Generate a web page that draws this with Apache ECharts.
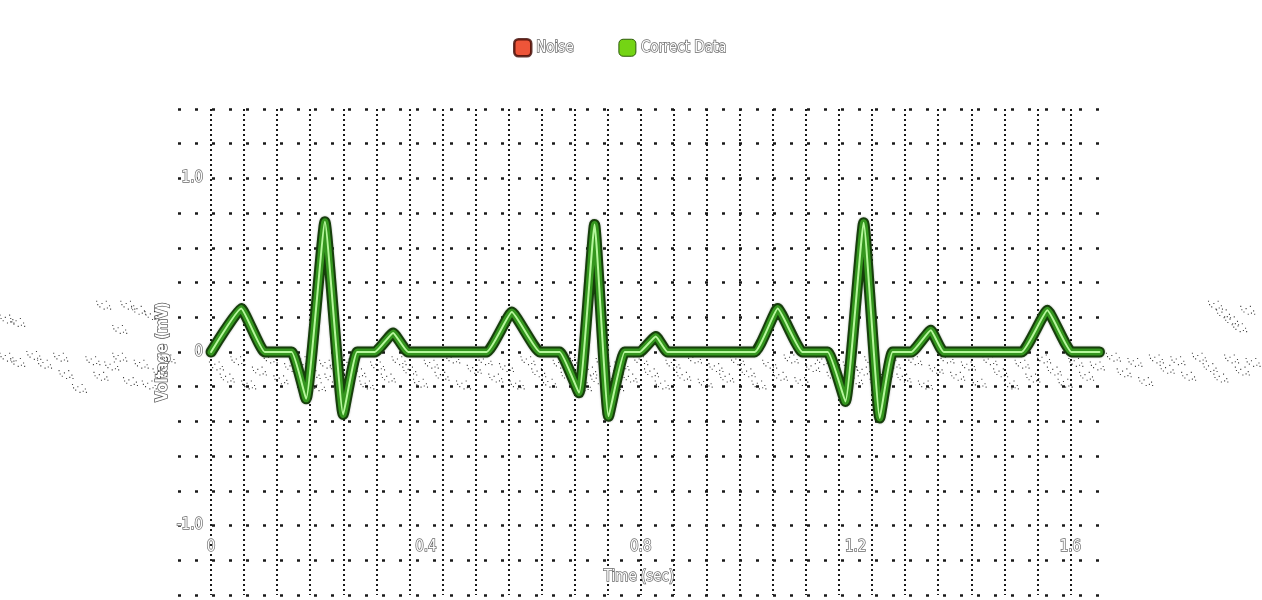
<!DOCTYPE html>
<html><head><meta charset="utf-8">
<script src="https://cdn.jsdelivr.net/npm/echarts@6/dist/echarts.min.js"></script>
<style>html,body{margin:0;padding:0;background:#fff}#c{width:1262px;height:600px}</style>
</head><body><div id="c"></div>
<script>
// ECG "Correct Data" (time in sec, voltage in mV)
const ecgTime = [0, 0.056, 0.10, 0.15, 0.177, 0.212, 0.246, 0.272, 0.305, 0.339, 0.367, 0.513, 0.56, 0.612, 0.649, 0.685, 0.714, 0.74, 0.77, 0.798, 0.828, 0.85, 1.012, 1.055, 1.101, 1.148, 1.181, 1.215, 1.245, 1.269, 1.304, 1.34, 1.364, 1.509, 1.557, 1.602, 1.654];
const ecgVoltage = [0, 0.25, 0, 0, -0.27, 0.75, -0.36, 0, 0, 0.11, 0, 0, 0.23, 0, 0, -0.235, 0.735, -0.37, 0, 0, 0.09, 0, 0, 0.25, 0, 0, -0.285, 0.745, -0.38, 0, 0, 0.125, 0, 0, 0.24, 0, 0];
// Noise samples [time, voltage]
const noisePoints = [
  [-0.38,-0.03],[-0.36,-0.06],[-0.33,-0.02],[-0.31,-0.07],[-0.28,-0.03],[-0.27,-0.13],[-0.245,-0.21],[-0.22,-0.05],
  [-0.205,-0.14],[-0.185,-0.08],[-0.17,-0.03],[-0.15,-0.17],[-0.13,-0.07],[-0.115,-0.19],[-0.095,-0.12],[-0.08,-0.04],
  [-0.38,0.19],[-0.36,0.17],[-0.2,0.27],[-0.155,0.27],[-0.135,0.24],[-0.11,0.21],[-0.17,0.13],
  [0.01,-0.08],[0.03,-0.15],[0.05,-0.05],[0.07,-0.19],[0.09,-0.11],[0.11,-0.04],[0.13,-0.16],[0.15,-0.09],
  [0.17,-0.05],[0.19,-0.13],[0.2,-0.2],[0.215,-0.07],[0.225,-0.15],[0.235,-0.1],[0.25,-0.18],[0.26,-0.05],
  [0.275,-0.12],[0.29,-0.19],[0.31,-0.08],[0.33,-0.15],[0.35,-0.05],[0.37,-0.11],[0.39,-0.18],[0.41,-0.07],
  [0.43,-0.14],[0.45,-0.04],[0.47,-0.19],[0.49,-0.1],[0.51,-0.05],[0.53,-0.15],[0.55,-0.09],[0.57,-0.19],
  [0.59,-0.05],[0.61,-0.12],[0.63,-0.18],[0.65,-0.07],[0.665,-0.14],[0.68,-0.04],[0.695,-0.2],[0.705,-0.11],
  [0.72,-0.16],[0.73,-0.06],[0.745,-0.13],[0.755,-0.2],[0.765,-0.08],[0.78,-0.15],[0.8,-0.05],[0.82,-0.12],
  [0.84,-0.19],[0.86,-0.07],[0.88,-0.14],[0.9,-0.04],[0.92,-0.18],[0.94,-0.09],[0.96,-0.15],[0.98,-0.05],
  [1.0,-0.12],[1.02,-0.19],[1.04,-0.07],[1.06,-0.14],[1.08,-0.04],[1.1,-0.17],[1.12,-0.09],[1.14,-0.05],
  [1.16,-0.14],[1.175,-0.2],[1.19,-0.08],[1.2,-0.16],[1.215,-0.11],[1.23,-0.05],[1.24,-0.18],[1.255,-0.12],
  [1.27,-0.07],[1.29,-0.15],[1.31,-0.05],[1.33,-0.19],[1.35,-0.1],[1.37,-0.04],[1.39,-0.14],[1.41,-0.08],
  [1.43,-0.18],[1.45,-0.05],[1.47,-0.12],[1.49,-0.19],[1.51,-0.07],[1.53,-0.15],[1.55,-0.04],[1.57,-0.11],
  [1.59,-0.18],[1.61,-0.06],[1.63,-0.14],[1.65,-0.08],
  [1.68,-0.03],[1.7,-0.12],[1.72,-0.06],[1.74,-0.17],[1.76,-0.04],[1.78,-0.1],[1.8,-0.05],[1.82,-0.14],
  [1.84,-0.03],[1.86,-0.09],[1.88,-0.15],[1.9,-0.04],[1.92,-0.11],[1.94,-0.06],
  [1.87,0.27],[1.885,0.22],[1.9,0.18],[1.915,0.14],[1.93,0.24]
];
const xTickLabels = [0, 0.4, 0.8, 1.2, 1.6];
const yTickLabels = [-1, 0, 1];

const labelFont = {
  fontFamily: '"Liberation Sans Narrow","DejaVu Sans Condensed","DejaVu Sans",sans-serif',
  color: '#ffffff', textBorderColor: '#6a6a6a', textBorderWidth: 1.4
};
const speckle = 'path://M0,0h1v1h-1z M5,2h1v1h-1z M9,0h1v1h-1z M3,5h1v1h-1z M12,4h1v1h-1z M7,7h1v1h-1z M13,7h1v1h-1z M1,3h1v1h-1z M10,6h1v1h-1z';
const xStep = 1.6 / 26;
const ecg = ecgTime.map((t, i) => [t, ecgVoltage[i]]);

const chart = echarts.init(document.getElementById('c'));
chart.setOption({
  animation: false,
  backgroundColor: '#ffffff',
  legend: {
    left: 508, top: 33, itemWidth: 17, itemHeight: 17, itemGap: 44, itemTextGap: 4, icon: 'roundRect',
    textStyle: Object.assign({ fontSize: 15 }, labelFont),
    data: [
      { name: 'Noise', itemStyle: { color: '#ea2a08', borderColor: '#3d0600', borderWidth: 2.5 } },
      { name: 'Correct Data', itemStyle: { color: '#74d414', borderColor: '#2c5a0a', borderWidth: 1 } }
    ]
  },
  grid: { left: 178, right: 162, top: 109, bottom: 5, outerBoundsMode: 'none' },
  xAxis: {
    type: 'value', min: -xStep, max: 1.655, interval: xStep,
    position: 'bottom', offset: -57,
    axisLine: { show: false, onZero: false }, axisTick: { show: false },
    axisLabel: Object.assign({ customValues: xTickLabels, margin: 2, fontSize: 15,
      formatter: v => (Math.abs(v) < 1e-9 ? '0' : (+v).toFixed(1)) }, labelFont),
    splitLine: { show: true, showMinLine: false, showMaxLine: false,
      lineStyle: { color: '#1a1a1a', width: 2, type: [2, 3] } },
    name: 'Time (sec)', nameLocation: 'middle', nameGap: 32,
    nameTextStyle: Object.assign({ fontSize: 15 }, labelFont)
  },
  yAxis: {
    type: 'value', min: -1.4, max: 1.4, interval: 0.2,
    position: 'left', offset: -33,
    axisLine: { show: false, onZero: false }, axisTick: { show: false },
    axisLabel: Object.assign({ customValues: yTickLabels, margin: 8, fontSize: 15,
      formatter: v => (Math.abs(v) < 1e-9 ? '0' : (+v).toFixed(1)) }, labelFont),
    splitLine: { show: true, lineStyle: { color: '#1a1a1a', width: 2.5, type: [3, 14] } },
    name: 'Voltage (mV)', nameLocation: 'middle', nameGap: 40, nameMoveOverlap: false,
    nameTextStyle: Object.assign({ fontSize: 15, fontWeight: 'bold' }, labelFont, { textBorderColor: '#555' })
  },
  series: [
    { name: 'Noise', type: 'scatter', data: noisePoints, clip: false,
      symbol: speckle, symbolSize: [15, 9],
      itemStyle: { color: '#111111', borderWidth: 0 }, z: 1 },
    { name: 'Correct Data', type: 'line', data: ecg, showSymbol: false, symbol: 'none', smooth: 0.12,
      lineStyle: { color: '#163f0b', width: 11, join: 'round', cap: 'round',
        shadowColor: 'rgba(0,0,0,0.35)', shadowBlur: 2 }, itemStyle: { color: '#74d414' }, z: 3 },
    { name: 'ecgMid', type: 'line', data: ecg, showSymbol: false, symbol: 'none', smooth: 0.12,
      lineStyle: { color: '#34961e', width: 7, join: 'round', cap: 'round' }, z: 4 },
    { name: 'ecgCore', type: 'line', data: ecg, showSymbol: false, symbol: 'none', smooth: 0.12,
      lineStyle: { color: '#b6f79c', width: 2, join: 'round', cap: 'round' }, z: 5 }
  ]
});
</script></body></html>
